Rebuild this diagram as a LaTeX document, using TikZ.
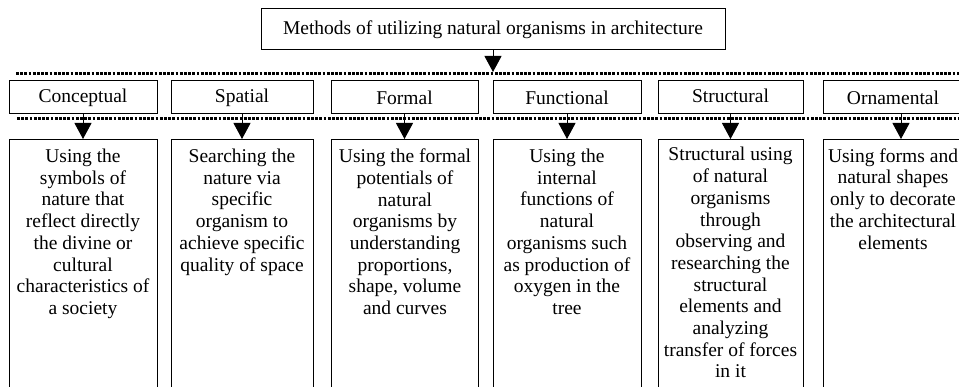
\documentclass[tikz,border=0pt]{standalone}
\usepackage{fontspec}
\setmainfont{Liberation Serif}
\usetikzlibrary{arrows.meta}
\begin{document}
\begin{tikzpicture}[x=1pt,y=-1pt,
  box/.style={draw, line width=1pt, inner sep=0pt, font=\fontsize{19.5}{21.7}\selectfont},
  catbox/.style={box, minimum height=33.3pt},
  detbox/.style={draw, line width=1pt, inner sep=0pt, minimum height=270pt, anchor=north},
  dtext/.style={align=center, inner sep=0pt, anchor=north, font=\fontsize{19.5}{21.7}\selectfont},
  arr/.style={line width=1pt, -{Triangle[length=16pt,width=17pt]}},
  dots/.style={line width=2.6pt, dash pattern=on 2.7pt off 1.5pt}]
\useasboundingbox (0,0) rectangle (959,387);
\clip (0,0) rectangle (959,387);
\node[box, minimum width=464pt, minimum height=41pt] (title) at (493,29.5) {Methods of utilizing natural organisms in architecture};
% dotted bands
\coordinate (dl1) at (16,73.5);
\coordinate (dr1) at (965,73.5);
\coordinate (dl2) at (17,118.5);
\coordinate (dr2) at (965,118.5);
\draw[dots] (dl1) -- (dr1);
\draw[dots] (dl2) -- (dr2);
% categories
\node[catbox, minimum width=148pt] (c1) at (83,97.35) {Conceptual};
\node[catbox, minimum width=142pt] (c2) at (242,97.35) {Spatial};
\node[catbox, minimum width=147pt] (c3) at (404.5,97.35) {Formal};
\node[catbox, minimum width=148pt] (c4) at (567,97.35) {Functional};
\node[catbox, minimum width=145pt] (c5) at (730.5,97.35) {\raisebox{3pt}{Structural}};
\node[catbox, minimum width=156pt] (c6) at (901,97.35) {\hspace*{-16pt}Ornamental};
% detail boxes
\node[detbox, minimum width=148pt] (d1) at (83,139) {};
\node[detbox, minimum width=142pt] (d2) at (242,139) {};
\node[detbox, minimum width=147pt] (d3) at (404.5,139) {};
\node[detbox, minimum width=148pt] (d4) at (567,139) {};
\node[detbox, minimum width=145pt] (d5) at (730.5,139) {};
\node[detbox, minimum width=156pt] (d6) at (901,139) {};
% detail texts
\node[dtext] (t1) at (83,148.8) {Using the\\symbols of\\nature that\\reflect directly\\the divine or\\cultural\\characteristics of\\a society};
\node[dtext] (t2) at (242,148.8) {Searching the\\nature via\\specific\\organism to\\achieve specific\\quality of space};
\node[dtext] (t3) at (405,148.8) {Using the formal\\potentials of\\natural\\organisms by\\understanding\\proportions,\\shape, volume\\and curves};
\node[dtext] (t4) at (567,148.8) {Using the\\internal\\functions of\\natural\\organisms such\\as production of\\oxygen in the\\tree};
\node[dtext] (t5) at (730.5,147.2) {Structural using\\of natural\\organisms\\through\\observing and\\researching the\\structural\\elements and\\analyzing\\transfer of forces\\in it};
\node[dtext] (t6) at (893,148.3) {Using forms and\\natural shapes\\only to decorate\\the architectural\\elements};
% arrows
\coordinate (hit) at (493,72);
\draw[arr] (title.south) -- (hit);
\foreach \i in {1,...,6} {\draw[arr] (c\i.south) -- (d\i.north);}
\end{tikzpicture}
\end{document}
